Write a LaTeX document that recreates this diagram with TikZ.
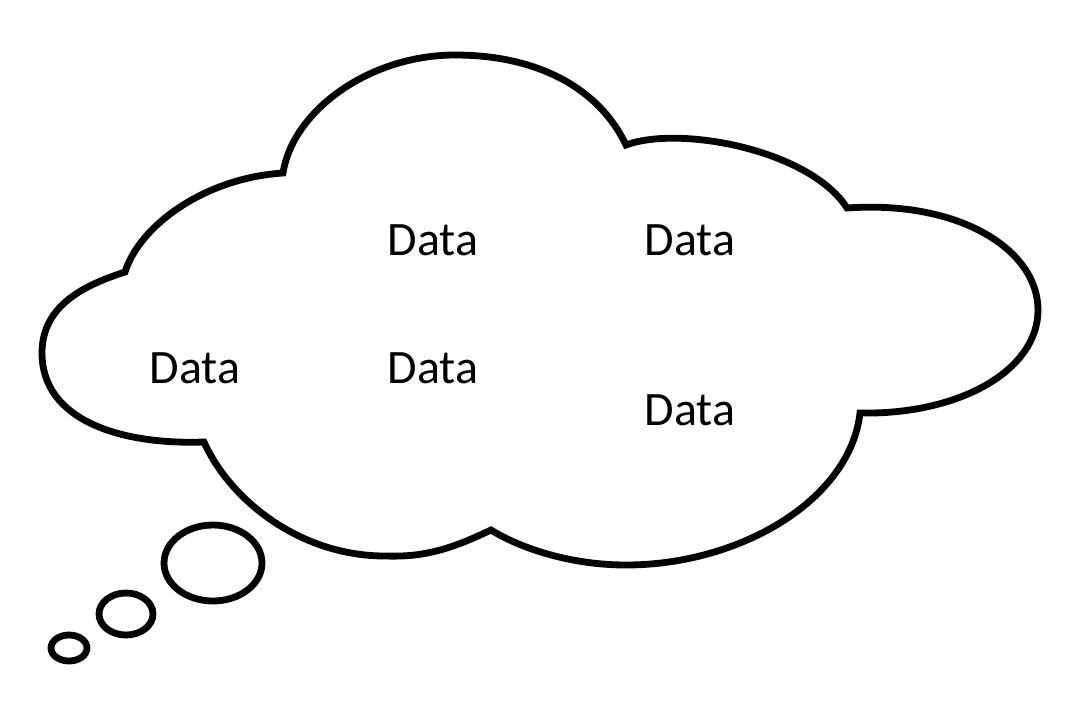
\documentclass[tikz,border=0pt]{standalone}
\usepackage{xcolor}
\usepackage{tikz}
\usepackage{fontspec}
\newfontfamily\datafont{Carlito}

\begin{document}
\begin{tikzpicture}[x=0.5pt,y=-0.5pt,line width=3.4pt,
  datatext/.style={font=\datafont\fontsize{24}{28}\selectfont}]
\useasboundingbox (0,0) rectangle (1080,702);
%cloud
\draw (125,272) .. controls (140,225) and (205,178) .. (283,173)
  .. controls (293,110) and (370,55) .. (455,55)
  .. controls (540,55) and (600,90) .. (626,145)
  .. controls (680,125) and (810,150) .. (847,208)
  .. controls (960,200) and (1038,250) .. (1038,310)
  .. controls (1038,370) and (960,415) .. (860,413)
  .. controls (850,500) and (740,565) .. (626,565)
  .. controls (570,565) and (520,548) .. (491,530)
  .. controls (445,552) and (420,557) .. (385,556)
  .. controls (300,556) and (230,500) .. (204,442)
  .. controls (120,445) and (42,420) .. (42,353)
  .. controls (42,305) and (85,285) .. cycle;
%bubbles
\draw (213,563) ellipse [x radius=49,y radius=38];
\draw (126,614) ellipse [x radius=27,y radius=21];
\draw (69,648) ellipse [x radius=18,y radius=13];
%Text
\node[datatext] (d1) at (433,240) {Data};
\node[datatext] (d2) at (690,240) {Data};
\node[datatext] (d3) at (195,368) {Data};
\node[datatext] (d4) at (433,368) {Data};
\node[datatext] (d5) at (690,410) {Data};
\end{tikzpicture}
\end{document}
